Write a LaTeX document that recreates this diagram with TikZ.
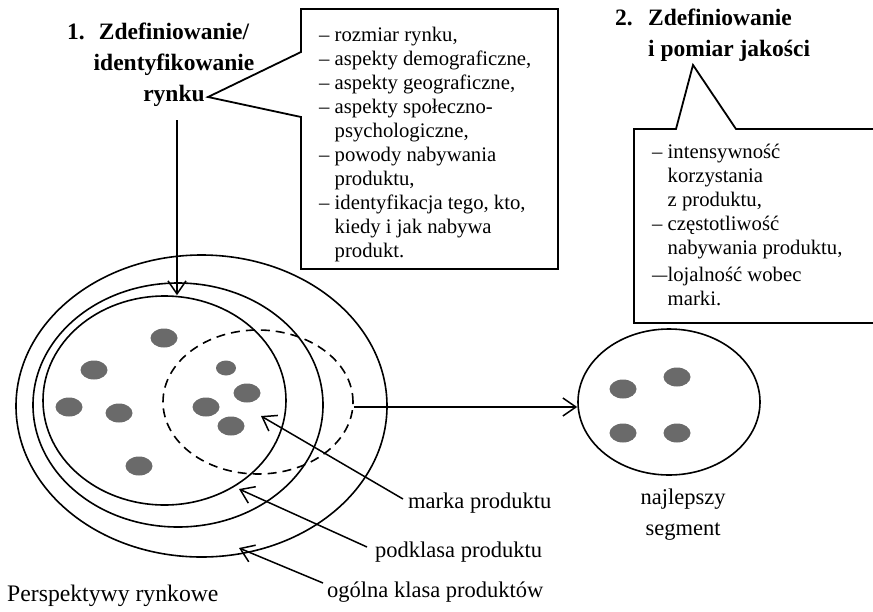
\documentclass[tikz,border=0pt]{standalone}
\usepackage{fontspec}
\usepackage{graphicx}
\setmainfont{Liberation Serif}
\usetikzlibrary{shapes.geometric,arrows.meta,calc}
\definecolor{dotgray}{HTML}{6A6A6A}

\begin{document}
\begin{tikzpicture}[x=1pt,y=-1pt,
  box/.style={draw, line width=1.8pt, line join=miter},
  ring/.style={draw, ellipse, line width=1.6pt, inner sep=0pt},
  dot/.style={ellipse, fill=dotgray, inner sep=0pt, minimum width=27pt, minimum height=19pt},
  smalldot/.style={dot, minimum width=20pt, minimum height=15pt},
  arr/.style={line width=1.5pt, -{Straight Barb[length=13pt,width=18pt,line width=1.5pt]}},
  lbl/.style={inner sep=0pt, font=\fontsize{22.5}{31}\selectfont},
  listtext/.style={inner sep=0pt, align=left, anchor=north west, font=\fontsize{20.7}{24.1}\selectfont},
  head/.style={inner sep=0pt, font=\fontsize{23.5}{31}\selectfont\bfseries}
]
\useasboundingbox (0,0) rectangle (873,611);

% --- callout 1: market definition
\draw[box] (301,9) -- (558,9) -- (558,269) -- (301,269) -- (301,117)
  -- (208,97) -- (301,52) -- cycle;
\node[listtext] (list1) at (319,26.5) {%
– rozmiar rynku,\\
– aspekty demograficzne,\\
– aspekty geograficzne,\\
– aspekty społeczno-\\
\hphantom{– }psychologiczne,\\
– powody nabywania\\
\hphantom{– }produktu,\\
– identyfikacja tego, kto,\\
\hphantom{– }kiedy i jak nabywa\\
\hphantom{– }produkt.};

% --- callout 2: quality measurement
\draw[box] (880,129) -- (736,129) -- (693,65) -- (676,129) -- (634,129)
  -- (634,323) -- (880,323);
\node[listtext] (list2) at (652,143.5) {%
– intensywność\\
\hphantom{– }korzystania\\
\hphantom{– }z produktu,\\
– częstotliwość\\
\hphantom{– }nabywania produktu,\\[2.5pt]
\scalebox{0.74}[1]{—}lojalność wobec\\
\hphantom{– }marki.};

% --- headings
\node[head, anchor=base west] (n1) at (67,39) {1.};
\node[head, align=center, anchor=north] (t1) at (174,23) {Zdefiniowanie/\\identyfikowanie\\rynku};
\node[head, anchor=base west] (n2) at (615,25) {2.};
\node[head, align=left, anchor=north west] (t2) at (648,9) {Zdefiniowanie\\i pomiar jakości};

% --- nested market circles
\node[ring, minimum width=371pt, minimum height=302pt] (outer) at (201.5,406) {};
\node[ring, minimum width=290pt, minimum height=244pt] (mid) at (178,405) {};
\node[ring, minimum width=243pt, minimum height=209pt] (inner) at (164.5,400.5) {};
\node[ring, dash pattern=on 9pt off 6pt, minimum width=190pt, minimum height=144pt] (brand) at (258,402) {};

% customers
\node[dot] (c1) at (164,338) {};
\node[dot] (c2) at (94,370) {};
\node[dot] (c3) at (69,407) {};
\node[dot] (c4) at (119,413) {};
\node[dot] (c5) at (139,466) {};
\node[smalldot] (c6) at (226,368) {};
\node[dot] (c7) at (247,393) {};
\node[dot] (c8) at (206,407) {};
\node[dot] (c9) at (231,426) {};

% --- best segment
\node[ring, minimum width=182pt, minimum height=146pt] (seg) at (669,402) {};
\node[dot] (s1) at (623,389) {};
\node[dot] (s2) at (677,377) {};
\node[dot] (s3) at (623,433) {};
\node[dot] (s4) at (677,433) {};
\node[lbl, align=center, anchor=north] (best) at (683,489) {najlepszy\\segment};

% --- labels
\node[lbl, anchor=west] (lmarka) at (408,503) {marka produktu};
\node[lbl, anchor=west] (lpodkl) at (375,552) {podklasa produktu};
\node[lbl, anchor=west] (logol) at (327,592) {ogólna klasa produktów};
\node[lbl, anchor=west, font=\fontsize{23.7}{28}\selectfont] (lpersp) at (7,596) {Perspektywy rynkowe};

% --- connectors
\coordinate (vtop) at (177,120);
\draw[arr] (vtop) -- (vtop |- inner.north);
\draw[arr] ([yshift=-5pt]brand.east) -- ([yshift=-5pt]seg.west);

\coordinate (pmarka) at (261,416);
\coordinate (ppodkl) at (239,489);
\coordinate (pogol) at (239,548);
\draw[arr] ([xshift=-5pt,yshift=4pt]lmarka.west) -- (pmarka);
\draw[arr] ([xshift=-8pt,yshift=5pt]lpodkl.west) -- (ppodkl);
\draw[arr] ([xshift=-4pt,yshift=9pt]logol.west) -- (pogol);
\end{tikzpicture}
\end{document}
